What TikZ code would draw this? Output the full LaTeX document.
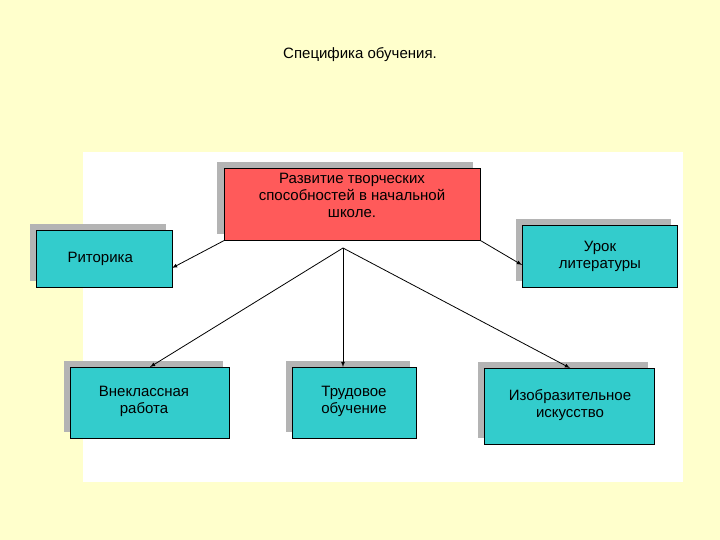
\documentclass[tikz,border=0pt]{standalone}
\usepackage{fontspec}
\setmainfont{Liberation Sans}
\definecolor{bg}{HTML}{FFFFCC}
\definecolor{teal2}{HTML}{33CCCC}
\definecolor{red2}{HTML}{FF5A5A}
\definecolor{shad}{HTML}{B4B4B4}
\tikzset{
 bx/.style={draw=black,line width=0.6pt,align=center,font=\fontsize{15}{17}\selectfont,inner sep=2pt,anchor=north west},
 sh/.style={fill=shad,draw=none},
 ar/.style={-latex,line width=0.8pt}
}
\begin{document}
\begin{tikzpicture}[x=1pt,y=-1pt]
\useasboundingbox[fill=bg] (0,0) rectangle (720,540);
\fill[white] (83,152) rectangle (683,482);
\node[font=\fontsize{15}{17}\selectfont] (title) at (360,55) {Специфика обучения.};
% shadows
\fill[shad] (217,162) rectangle (473,234);
\fill[shad] (30,224) rectangle (166,281);
\fill[shad] (516,219) rectangle (671,281);
\fill[shad] (64,361) rectangle (223,432);
\fill[shad] (286,361) rectangle (410,432);
\fill[shad] (478,362) rectangle (648,438);
% boxes
\node[bx,fill=red2,minimum width=256pt,minimum height=72pt,anchor=north west] (top) at (224,168) {};
\node[font=\fontsize{15}{17}\selectfont,align=center,anchor=north] (toptext) at (352,170) {Развитие творческих\\способностей в начальной\\школе.};
\node[bx,fill=teal2,minimum width=136pt,minimum height=57pt] (rit) at (36,230) {};
\node[font=\fontsize{15}{17}\selectfont,anchor=west] (rittext) at (64,259) {Риторика};
\node[bx,fill=teal2,minimum width=155pt,minimum height=62pt] (urok) at (522,225) {};
\node[font=\fontsize{15}{17}\selectfont,align=center] (uroktext) at (600,256) {Урок\\литературы};
\node[bx,fill=teal2,minimum width=159pt,minimum height=71pt] (vne) at (70,367) {};
\node[font=\fontsize{15}{17}\selectfont,align=center] (vnetext) at (144,401) {Внеклассная\\работа};
\node[bx,fill=teal2,minimum width=124pt,minimum height=71pt] (trud) at (292,367) {};
\node[font=\fontsize{15}{17}\selectfont,align=center] (trudtext) at (354,401) {Трудовое\\обучение};
\node[bx,fill=teal2,minimum width=170pt,minimum height=76pt] (izo) at (484,368) {};
\node[font=\fontsize{15}{17}\selectfont,align=center] (izotext) at (570,405) {Изобразительное\\искусство};
% connectors
\coordinate (hub) at (343,248);
\draw[ar] (top.south west) -- (172,268) coordinate (r1);
\draw[ar] (top.south east) -- (522,265) coordinate (u1);
\draw[ar] (hub) -- (150,367) coordinate (v1);
\draw[ar] (hub) -- (343,367) coordinate (t1);
\draw[ar] (hub) -- (570,368) coordinate (i1);
\end{tikzpicture}
\end{document}
